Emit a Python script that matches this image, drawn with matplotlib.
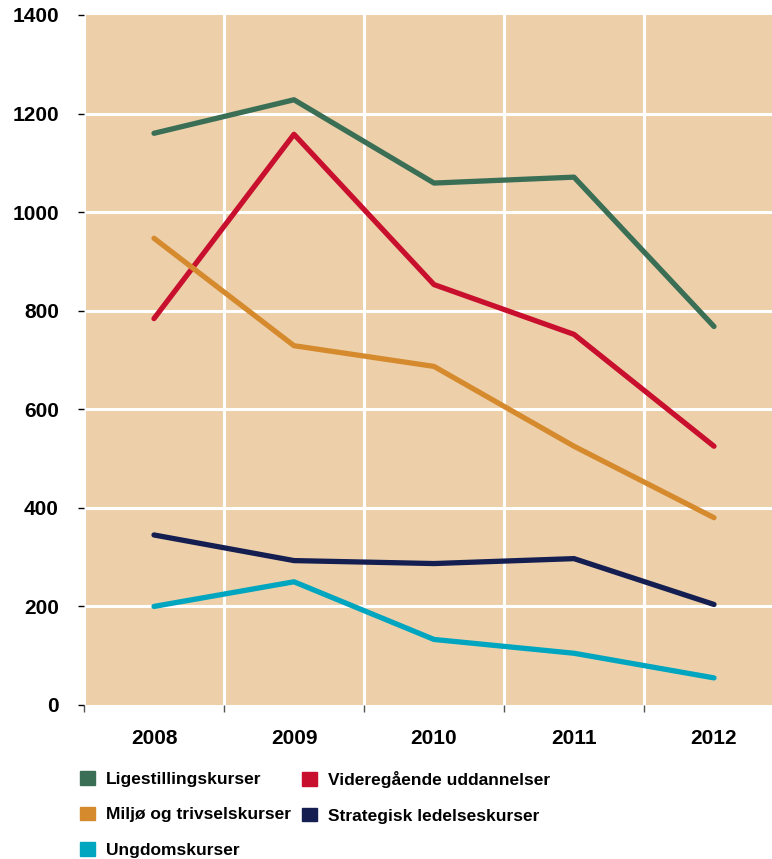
import matplotlib.pyplot as plt

years = ['2008', '2009', '2010', '2011', '2012']
ligestilling = [1160, 1228, 1059, 1071, 768]
videregaende = [784, 1158, 853, 752, 525]
miljo = [947, 729, 687, 525, 380]
strategisk = [345, 293, 287, 297, 204]
ungdom = [200, 250, 133, 105, 55]

series = [
    ('Ligestillingskurser', ligestilling, '#3a6e55'),
    ('Miljø og trivselskurser', miljo, '#d68a2e'),
    ('Ungdomskurser', ungdom, '#00a5c0'),
    ('Videregående uddannelser', videregaende, '#c8102e'),
    ('Strategisk ledelseskurser', strategisk, '#141e50'),
]
# drawing order (z) as in the original
draw_order = [0, 3, 1, 4, 2]

fig = plt.figure(figsize=(7.72, 8.59), dpi=100)
W, H = 772, 859
ax = fig.add_axes([84 / W, 1 - 705 / H, (784 - 84) / W, (705 - 15) / H])
ax.set_facecolor('#edd0a9')

x = list(range(len(years)))
for i in draw_order:
    name, vals, col = series[i]
    ax.plot(x, vals, color=col, lw=3.8, solid_capstyle='round',
            solid_joinstyle='round', label=name, zorder=3)

ax.set_xlim(-0.5, 4.5)
ax.set_ylim(0, 1400)
ax.set_yticks(range(0, 1401, 200))
ax.set_xticks([-0.5, 0.5, 1.5, 2.5, 3.5])
ax.set_xticklabels([])
ax.set_xticks(x, minor=True)
ax.set_xticklabels(years, minor=True)
ax.tick_params(axis='x', which='major', length=5, width=1, color='#555555')
ax.tick_params(axis='x', which='minor', length=0, pad=17.5, labelsize=15)
ax.tick_params(axis='y', length=4, width=1, pad=14, labelsize=15)
for lab in ax.get_xticklabels(minor=True) + ax.get_yticklabels():
    lab.set_fontweight('bold')
    lab.set_family(['Liberation Sans', 'DejaVu Sans'])
ax.grid(True, axis='x', which='major', color='white', lw=2.2)
ax.grid(True, axis='y', color='white', lw=2.2)
ygrid = ax.get_ygridlines()
ygrid[0].set_visible(False)
ygrid[-1].set_visible(False)
ax.set_axisbelow(True)
for s in ax.spines.values():
    s.set_visible(False)

legend_font = {'family': ['Liberation Sans', 'DejaVu Sans'],
               'weight': 'bold', 'size': 12.5}
columns = [([0, 1, 2], 80), ([3, 4], 302)]
for idx, left in columns:
    proxies = [plt.Rectangle((0, 0), 1, 1, color=series[i][2]) for i in idx]
    fig.legend(proxies, [series[i][0] for i in idx], loc='upper left',
               bbox_to_anchor=(left / W, 1 - 771 / H), frameon=False,
               borderpad=0, borderaxespad=0,
               handlelength=0.85, handleheight=0.85, handletextpad=0.63,
               labelspacing=1.13, prop=legend_font)

fig.savefig('out.png', dpi=100)
